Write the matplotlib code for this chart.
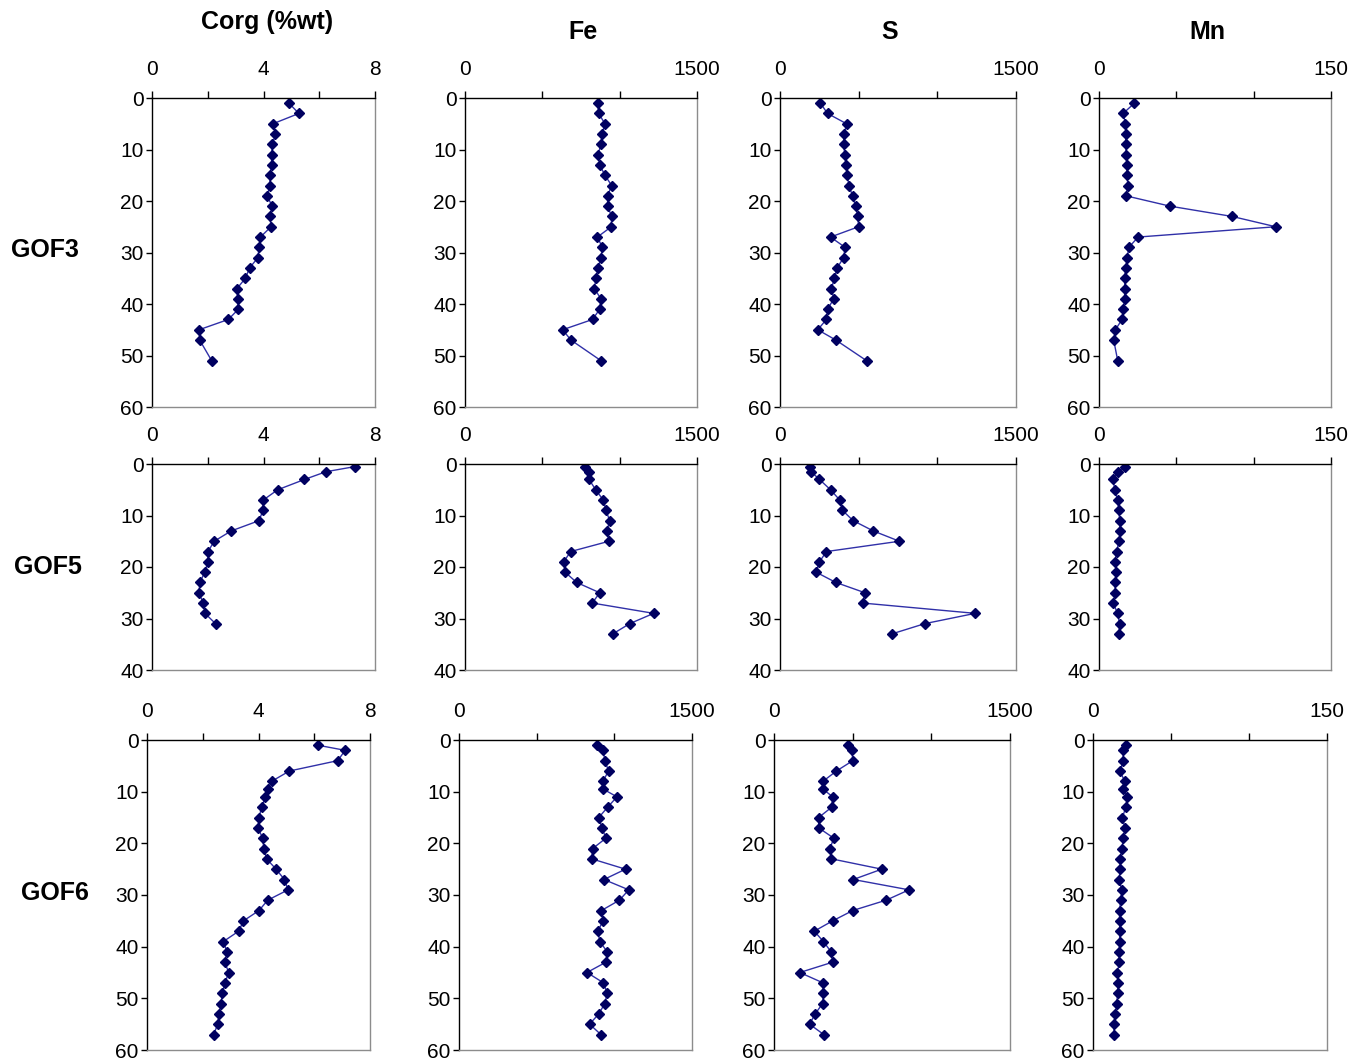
import matplotlib
matplotlib.use('Agg')
import matplotlib.pyplot as plt

plt.rcParams['font.family'] = ['Liberation Sans', 'DejaVu Sans']

# depths (cm)
gof3_depth = [1, 3, 5, 7, 9, 11, 13, 15, 17, 19, 21, 23, 25, 27, 29, 31, 33, 35, 37, 39, 41, 43, 45, 47, 51]
gof5_depth = [0.5, 1.5, 3, 5, 7, 9, 11, 13, 15, 17, 19, 21, 23, 25, 27, 29, 31, 33]
gof6_depth = [1, 2, 4, 6, 8, 9.5, 11, 13, 15, 17, 19, 21, 23, 25, 27, 29, 31, 33, 35, 37,
              39, 41, 43, 45, 47, 49, 51, 53, 55, 57]

# GOF3
gof3_corg = [4.91, 5.27, 4.34, 4.43, 4.32, 4.29, 4.29, 4.23, 4.23, 4.13, 4.31, 4.23, 4.27,
             3.89, 3.84, 3.80, 3.50, 3.35, 3.05, 3.07, 3.10, 2.74, 1.69, 1.71, 2.14]
gof3_fe = [858, 864, 905, 886, 879, 860, 871, 905, 948, 922, 922, 948, 946,
           856, 888, 879, 860, 847, 836, 879, 871, 825, 631, 685, 879]
gof3_s = [257, 302, 423, 408, 404, 412, 419, 427, 438, 461, 480, 495, 499,
          321, 414, 404, 363, 346, 327, 342, 302, 295, 240, 355, 550]
gof3_mn = [22.9, 15.6, 17.1, 17.3, 17.3, 17.5, 18.0, 18.2, 18.6, 17.5, 45.9, 86.1, 114.3,
           25.3, 19.3, 18.2, 17.3, 16.5, 16.7, 16.5, 15.8, 14.9, 10.6, 9.5, 12.1]

# GOF5 (Corg has no value at 33 cm)
gof5_corg = [7.28, 6.24, 5.47, 4.51, 3.99, 3.98, 3.84, 2.84, 2.23, 2.01, 2.01, 1.89,
             1.72, 1.68, 1.84, 1.90, 2.28]
gof5_fe = [774, 802, 802, 845, 894, 912, 935, 918, 931, 683, 638, 647, 722, 871, 823, 1220, 1065, 955]
gof5_s = [189, 198, 251, 321, 380, 397, 465, 593, 759, 295, 251, 229, 355, 540, 525, 1241, 920, 710]
gof5_mn = [17.1, 12.0, 9.2, 10.1, 12.0, 12.9, 13.3, 13.7, 12.9, 11.4, 10.3, 11.1, 10.3,
           10.5, 9.2, 12.0, 13.3, 12.9]

# GOF6
gof6_corg = [6.12, 7.11, 6.84, 5.11, 4.47, 4.34, 4.25, 4.11, 4.02, 3.98, 4.15, 4.19, 4.29,
             4.63, 4.93, 5.06, 4.33, 4.02, 3.46, 3.29, 2.74, 2.87, 2.79, 2.93, 2.80, 2.70,
             2.66, 2.58, 2.54, 2.39]
gof6_fe = [887, 928, 939, 963, 926, 928, 1017, 957, 900, 920, 946, 861, 854, 1072, 933,
           1093, 1033, 917, 928, 893, 907, 954, 946, 824, 930, 954, 939, 900, 841, 913]
gof6_s = [469, 495, 501, 397, 311, 311, 373, 367, 284, 284, 380, 356, 365, 685, 504,
          858, 713, 501, 373, 256, 314, 363, 373, 164, 311, 314, 309, 262, 226, 316]
gof6_mn = [21.4, 19.1, 19.5, 17.2, 20.4, 19.3, 22.1, 21.0, 18.9, 20.4, 19.5, 18.5, 17.4,
           17.6, 16.6, 18.5, 17.8, 17.0, 17.0, 17.2, 17.0, 16.8, 16.8, 15.7, 16.1, 15.9,
           15.1, 14.4, 13.2, 13.6]

cores = ['GOF3', 'GOF5', 'GOF6']
variables = ['Corg (%wt)', 'Fe', 'S', 'Mn']
depths = [gof3_depth, gof5_depth, gof6_depth]
values = [
    [gof3_corg, gof3_fe, gof3_s, gof3_mn],
    [gof5_corg, gof5_fe, gof5_s, gof5_mn],
    [gof6_corg, gof6_fe, gof6_s, gof6_mn],
]
xmax = [8, 1500, 1500, 150]
depth_max = [60, 40, 60]

W, H = 1371, 1064
fig = plt.figure(figsize=(W / 100, H / 100), dpi=100)

# axes boxes in pixels: (left, right) per column and (top, bottom) per row
col_x = [
    [(152, 375), (465, 697), (780, 1016), (1099, 1331)],
    [(152, 375), (465, 697), (780, 1016), (1099, 1331)],
    [(147, 370), (459, 692), (774, 1010), (1093, 1327)],
]
row_y = [(98, 407), (464, 670), (740, 1050)]

marker_col = '#000060'
line_col = '#3030a8'

for r in range(3):
    top, bot = row_y[r]
    for c in range(4):
        x0, x1 = col_x[r][c]
        ax = fig.add_axes([x0 / W, 1 - bot / H, (x1 - x0) / W, (bot - top) / H])
        vals = values[r][c]
        d = depths[r][:len(vals)]
        ax.plot(vals, d, color=line_col, lw=1.0, marker='D', ms=5,
                mfc=marker_col, mec=marker_col)
        ax.set_xlim(0, xmax[c])
        ax.set_ylim(depth_max[r], 0)
        ax.xaxis.tick_top()
        if c == 0:
            ax.set_xticks([0, 4, 8])
            ax.set_xticks([2, 6], minor=True)
        else:
            ax.set_xticks([0, xmax[c]])
            ax.set_xticks([xmax[c] / 3, xmax[c] * 2 / 3], minor=True)
        ax.set_yticks(range(0, depth_max[r] + 1, 10))
        ax.tick_params(axis='x', which='both', direction='out', length=5, width=1,
                       labelsize=15, pad=9)
        ax.tick_params(axis='y', direction='out', length=4, width=1, labelsize=15, pad=2)
        ax.spines['top'].set_color('black')
        ax.spines['left'].set_color('black')
        ax.spines['right'].set_color('#8c8c8c')
        ax.spines['bottom'].set_color('#8c8c8c')
        for s in ax.spines.values():
            s.set_linewidth(1)

# column titles
title_pos = [(267, 22), (583, 32), (890, 32), (1207, 32)]
for name, (tx, ty) in zip(variables, title_pos):
    fig.text(tx / W, 1 - ty / H, name, ha='center', va='center',
             fontsize=18, fontweight='bold')

# row labels
row_pos = [(45, 250), (48, 567), (55, 893)]
for name, (tx, ty) in zip(cores, row_pos):
    fig.text(tx / W, 1 - ty / H, name, ha='center', va='center',
             fontsize=18, fontweight='bold')

fig.savefig('out.png', dpi=100)
